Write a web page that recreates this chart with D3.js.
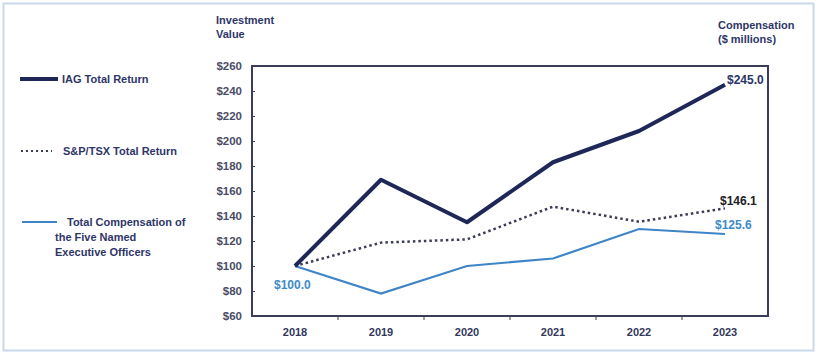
<!DOCTYPE html>
<html>
<head>
<meta charset="utf-8">
<script src="https://cdn.jsdelivr.net/npm/d3@7"></script>
<style>
  body { margin: 0; background: #fff; }
  text { font-family: "Liberation Sans", Arial, sans-serif; font-weight: bold; }
</style>
</head>
<body>
<div id="chart"></div>
<script>
/* performance graph: IAG vs S&P/TSX vs NEO compensation */

const years = ["2018", "2019", "2020", "2021", "2022", "2023"];
const iagReturn = [100, 169, 135, 183, 208, 245.0];
const tsxReturn = [100, 118.7, 121.3, 147.5, 135.4, 146.1];
const neoComp = [100, 78, 100, 106, 129.6, 125.6];
const yTicks = [60, 80, 100, 120, 140, 160, 180, 200, 220, 240, 260];

let width = 817,
    height = 353,
    margin = ({ top: 66, right: 49, bottom: 37, left: 252 });

const svg = d3.select("#chart")
  .append("svg")
  .attr("width", width)
  .attr("height", height);

// light outer frame
svg.append("rect")
  .attr("x", 3.5).attr("y", 3.5)
  .attr("width", width - 7).attr("height", height - 6)
  .attr("fill", "none")
  .attr("stroke", "#c9d8ea")
  .attr("stroke-width", 2);

let x = d3.scaleBand()
  .domain(years)
  .range([margin.left, width - margin.right]);

let y = d3.scaleLinear()
  .domain([60, 260])
  .range([height - margin.bottom, margin.top]);

// plot box
svg.append("rect")
  .attr("x", margin.left).attr("y", margin.top)
  .attr("width", width - margin.left - margin.right)
  .attr("height", height - margin.top - margin.bottom)
  .attr("fill", "none")
  .attr("stroke", "#3a3d55")
  .attr("stroke-width", 2);

// y axis
let yAxis = svg.append("g")
  .attr("transform", `translate(${margin.left},0)`)
  .call(d3.axisLeft(y).tickValues(yTicks).tickSize(-3).tickPadding(10)
    .tickFormat(d => "$" + d));
yAxis.select(".domain").remove();
yAxis.selectAll("line").attr("stroke", "#3a3d55");
yAxis.selectAll("text").attr("fill", "#4a4d66").attr("font-size", 11.5);

// x axis: ticks between categories
let xAxis = svg.append("g")
  .attr("transform", `translate(0,${height - margin.bottom})`)
  .call(d3.axisBottom(x).tickSize(0).tickPadding(12));
xAxis.select(".domain").remove();
xAxis.selectAll("text").attr("fill", "#33385a").attr("font-size", 11);

svg.append("g")
  .selectAll("line")
  .data(years.slice(1))
  .join("line")
  .attr("x1", d => x(d)).attr("x2", d => x(d))
  .attr("y1", height - margin.bottom).attr("y2", height - margin.bottom + 4)
  .attr("stroke", "#3a3d55");

// axis titles
svg.append("text").attr("x", 216).attr("y", 24).attr("font-size", 11)
  .attr("fill", "#2e3668").text("Investment");
svg.append("text").attr("x", 216).attr("y", 38).attr("font-size", 11)
  .attr("fill", "#2e3668").text("Value");
svg.append("text").attr("x", 718).attr("y", 29).attr("font-size", 11)
  .attr("fill", "#2e3668").text("Compensation");
svg.append("text").attr("x", 718).attr("y", 43).attr("font-size", 11)
  .attr("fill", "#2e3668").text("($ millions)");

let line = d3.line()
  .x((d, i) => x(years[i]) + x.bandwidth() / 2)
  .y(d => y(d));

svg.append("path")
  .datum(neoComp)
  .attr("fill", "none")
  .attr("stroke", "#3d85c6")
  .attr("stroke-width", 2.2)
  .attr("d", line);

svg.append("path")
  .datum(tsxReturn)
  .attr("fill", "none")
  .attr("stroke", "#3b3c58")
  .attr("stroke-width", 2.5)
  .attr("stroke-dasharray", "2.5,3")
  .attr("d", line);

svg.append("path")
  .datum(iagReturn)
  .attr("fill", "none")
  .attr("stroke", "#1e2757")
  .attr("stroke-width", 4)
  .attr("stroke-linejoin", "round")
  .attr("d", line);

// end labels
let last = years.length - 1,
    lastX = x(years[last]) + x.bandwidth() / 2;

svg.append("text").attr("x", lastX + 2).attr("y", y(iagReturn[last]) - 1)
  .attr("font-size", 12).attr("fill", "#2b3466")
  .text("$" + iagReturn[last].toFixed(1));
svg.append("text").attr("x", lastX - 5).attr("y", y(tsxReturn[last]) - 3)
  .attr("font-size", 12).attr("fill", "#222")
  .text("$" + tsxReturn[last].toFixed(1));
svg.append("text").attr("x", lastX - 10).attr("y", y(neoComp[last]) - 5)
  .attr("font-size", 12).attr("fill", "#3d8ac9")
  .text("$" + neoComp[last].toFixed(1));
svg.append("text").attr("x", x(years[0]) + x.bandwidth() / 2 - 21).attr("y", y(neoComp[0]) + 23)
  .attr("font-size", 12).attr("fill", "#3d8ac9")
  .text("$" + neoComp[0].toFixed(1));

// legend
let legend = svg.append("g");

legend.append("line").attr("x1", 20).attr("x2", 58).attr("y1", 79).attr("y2", 79)
  .attr("stroke", "#1e2757").attr("stroke-width", 4);
legend.append("text").attr("x", 62).attr("y", 83).attr("font-size", 11)
  .attr("fill", "#2e3668").text("IAG Total Return");

legend.append("line").attr("x1", 21).attr("x2", 52).attr("y1", 151).attr("y2", 151)
  .attr("stroke", "#3b3c58").attr("stroke-width", 2).attr("stroke-dasharray", "2,3");
legend.append("text").attr("x", 63).attr("y", 155).attr("font-size", 11)
  .attr("fill", "#2e3668").text("S&P/TSX Total Return");

legend.append("line").attr("x1", 22).attr("x2", 57).attr("y1", 222).attr("y2", 222)
  .attr("stroke", "#3d85c6").attr("stroke-width", 2);
legend.append("text").attr("x", 67).attr("y", 226).attr("font-size", 11)
  .attr("fill", "#2e3668").text("Total Compensation of");
legend.append("text").attr("x", 55).attr("y", 241).attr("font-size", 11)
  .attr("fill", "#2e3668").text("the Five Named");
legend.append("text").attr("x", 55).attr("y", 256).attr("font-size", 11)
  .attr("fill", "#2e3668").text("Executive Officers");
</script>
</body>
</html>
